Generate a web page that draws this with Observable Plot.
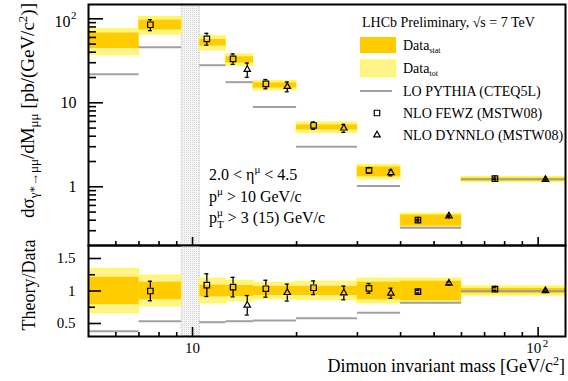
<!DOCTYPE html>
<html><head><meta charset="utf-8">
<script src="https://cdn.jsdelivr.net/npm/d3@7"></script>
<script src="https://cdn.jsdelivr.net/npm/@observablehq/plot@0.6"></script>
<style>
body{margin:0;background:#fff;}
#chart{position:relative;width:568px;height:381px;}
#chart svg{position:absolute;left:0;overflow:visible;}
</style></head><body>
<svg width="0" height="0" style="position:absolute">
  <defs>
    <pattern id="gapHatch" width="2" height="2" patternUnits="userSpaceOnUse">
      <rect width="2" height="2" fill="#f5f5f5"/>
      <rect width="1" height="1" fill="#d6d6d6"/>
    </pattern>
  </defs>
</svg>
<div id="chart"></div>
<script>
// ---- data ----
const binLo = [5, 7, 10.5, 12.5, 15, 20, 30, 40, 60];
const binHi = [7, 9.3, 12.5, 15, 20, 30, 40, 60, 120];
const dataXsec = [56, 85, 52, 32.5, 16.1, 5.1, 1.52, 0.40, 1.22];
const statErr = [0.21, 0.135, 0.09, 0.085, 0.07, 0.07, 0.135, 0.15, 0.04];
const totErr  = [0.34, 0.235, 0.19, 0.155, 0.125, 0.14, 0.19, 0.19, 0.07];
const pythiaXsec  = [21.9, 46, 28, 17.6, 8.9, 3.0, 1.02, 0.326, 1.23];
const pythiaRatio = [0.38, 0.535, 0.52, 0.535, 0.545, 0.58, 0.665, 0.82, 1.0];

const fewzX        = [7.55, 11.0, 13.1, 16.3, 22.4, 32.4, 44.9, 75];
const fewzXsec     = [85, 57.8, 33.4, 16.8, 5.37, 1.57, 0.40, 1.25];
const fewzRatio    = [1.0, 1.09, 1.06, 1.035, 1.05, 1.04, 0.99, 1.03];
const fewzRatioErr = [0.15, 0.175, 0.15, 0.13, 0.105, 0.075, 0.02, 0.02];

const dynX        = [14.4, 18.8, 27.4, 37.5, 55.2, 105];
const dynXsec     = [24.9, 15.6, 4.99, 1.47, 0.45, 1.22];
const dynRatio    = [0.78, 0.975, 0.97, 0.965, 1.12, 1.005];
const dynRatioErr = [0.15, 0.13, 0.105, 0.078, 0.02, 0.012];

const gapLo = 9.3, gapHi = 10.5;

const xDomain = [5, 120];
const yTopDomain = [0.2, 148];
const yRatioDomain = [0.3, 1.7];

const xMajorTicks = [10, 100];
const xMinorTicks = [6, 7, 8, 9, 20, 30, 40, 50, 60, 70, 80, 90];
const xTickLabels = ["10", "10"];
const xTickSups = ["", "2"];
const yTopMajor = [1, 10, 100];
const yTopMinor = [0.2,0.3,0.4,0.5,0.6,0.7,0.8,0.9,2,3,4,5,6,7,8,9,20,30,40,50,60,70,80,90];
const yTopLabels = ["1", "10", "10"];
const yTopSups = ["", "", "2"];
const yRatioMajor = [0.5, 1, 1.5];
const yRatioMinor = [0.75, 1.25];
const yRatioLabels = ["0.5", "1", "1.5"];

const legendLabels = ["Data", "Data", "LO PYTHIA (CTEQ5L)", "NLO FEWZ (MSTW08)", "NLO DYNNLO (MSTW08)"];
const legendSubs = ["stat", "tot", "", "", ""];

// ---- styles ----
const FONT = "'Liberation Serif','Times New Roman',serif";
const DARK = "#ffcc00", LIGHT = "#fff38a", LIGHT_EDGE = "#ffff30";
const GRAY = "#a0a0a0", GAP_FILL = "url(#gapHatch)", GAP_STROKE = "#c8c8c8";
const W = 568, ML = 88, MR = 3;
const innerW = W - ML - MR;
const topH = 245, topMT = 4, topInnerH = topH - topMT;
const botH = 136, botMB = 45, botInnerH = botH - botMB;

const bins = binLo.map((lo, i) => ({lo, hi: binHi[i], v: dataXsec[i], stat: statErr[i], tot: totErr[i], py: pythiaXsec[i], pyr: pythiaRatio[i]}));
const fewz = fewzX.map((x, i) => ({x, v: fewzXsec[i], r: fewzRatio[i], e: fewzRatioErr[i]}));
const dyn = dynX.map((x, i) => ({x, v: dynXsec[i], r: dynRatio[i], e: dynRatioErr[i]}));
const gap = [{lo: gapLo, hi: gapHi}];

const yTopPlain = yTopMajor.map((v, i) => ({v, t: yTopLabels[i], s: yTopSups[i]})).filter(d => !d.s);
const yTopSup = yTopMajor.map((v, i) => ({v, t: yTopLabels[i], s: yTopSups[i]})).filter(d => d.s);
const xPlain = xMajorTicks.map((v, i) => ({v, t: xTickLabels[i], s: xTickSups[i]})).filter(d => !d.s);
const xSup = xMajorTicks.map((v, i) => ({v, t: xTickLabels[i], s: xTickSups[i]})).filter(d => d.s);

function errBars(data, yc, yhi, ylo, gapPx) {
  const o = {x: "x", stroke: "black", strokeWidth: 1.3};
  return [
    Plot.ruleX(data, {...o, y1: yhi, y2: yc, insetBottom: gapPx}),
    Plot.ruleX(data, {...o, y1: yc, y2: ylo, insetTop: gapPx}),
    Plot.ruleY(data, {y: yhi, x1: "x", x2: "x", insetLeft: -2, insetRight: -2, stroke: "black", strokeWidth: 1.3}),
    Plot.ruleY(data, {y: ylo, x1: "x", x2: "x", insetLeft: -2, insetRight: -2, stroke: "black", strokeWidth: 1.3})
  ];
}

const topPlot = Plot.plot({
  width: W, height: topH, marginLeft: ML, marginRight: MR, marginTop: topMT, marginBottom: 0,
  style: {fontFamily: FONT, background: "transparent", overflow: "visible"},
  x: {type: "log", domain: xDomain, axis: null},
  y: {type: "log", domain: yTopDomain, axis: null},
  marks: [
    Plot.rect(gap, {x1: "lo", x2: "hi", fill: GAP_FILL, stroke: GAP_STROKE, strokeDasharray: "1.5,1.5"}),
    Plot.rect(bins, {x1: "lo", x2: "hi", y1: d => d.v * (1 - d.tot), y2: d => d.v * (1 + d.tot), fill: LIGHT, stroke: LIGHT_EDGE, strokeWidth: 1}),
    Plot.rect(bins, {x1: "lo", x2: "hi", y1: d => d.v * (1 - d.stat), y2: d => d.v * (1 + d.stat), fill: DARK}),
    Plot.ruleY(bins, {y: "py", x1: "lo", x2: "hi", stroke: GRAY, strokeWidth: 2}),
    ...errBars(fewz, "v", d => d.v * (1 + d.e / d.r), d => d.v * (1 - d.e / d.r), 3),
    ...errBars(dyn, "v", d => d.v * (1 + d.e / d.r), d => d.v * (1 - d.e / d.r), 3),
    Plot.dot(fewz, {x: "x", y: "v", symbol: "square", r: 3.1, stroke: "black", strokeWidth: 1.2, fill: "none"}),
    Plot.dot(dyn, {x: "x", y: "v", symbol: "triangle", r: 2.4, stroke: "black", strokeWidth: 1.2, fill: "none"}),
    Plot.tickY(yTopMajor, {y: d => d, insetRight: innerW - 15, strokeWidth: 1.6}),
    Plot.tickY(yTopMinor.filter(v => v > yTopDomain[0] && v < yTopDomain[1]), {y: d => d, insetRight: innerW - 8, strokeWidth: 1.6}),
    Plot.tickX(xMajorTicks, {x: d => d, insetTop: topInnerH - 8, strokeWidth: 1.6}),
    Plot.tickX(xMinorTicks, {x: d => d, insetTop: topInnerH - 4, strokeWidth: 1.6}),
    Plot.text(yTopPlain, {y: "v", text: "t", frameAnchor: "left", textAnchor: "end", dx: -12, fontSize: 16}),
    Plot.text(yTopSup, {y: "v", text: "t", frameAnchor: "left", textAnchor: "end", dx: -18, dy: 3, fontSize: 16}),
    Plot.text(yTopSup, {y: "v", text: "s", frameAnchor: "left", textAnchor: "start", dx: -17.5, dy: -3, fontSize: 11}),
    Plot.frame({stroke: "black", strokeWidth: 2})
  ]
});

const botPlot = Plot.plot({
  width: W, height: botH, marginLeft: ML, marginRight: MR, marginTop: 0, marginBottom: botMB,
  style: {fontFamily: FONT, background: "transparent", overflow: "visible"},
  x: {type: "log", domain: xDomain, axis: null},
  y: {domain: yRatioDomain, axis: null},
  marks: [
    Plot.rect(gap, {x1: "lo", x2: "hi", fill: GAP_FILL, stroke: GAP_STROKE, strokeDasharray: "1.5,1.5"}),
    Plot.rect(bins, {x1: "lo", x2: "hi", y1: d => 1 - d.tot, y2: d => 1 + d.tot, fill: LIGHT, stroke: LIGHT_EDGE, strokeWidth: 1}),
    Plot.rect(bins, {x1: "lo", x2: "hi", y1: d => 1 - d.stat, y2: d => 1 + d.stat, fill: DARK}),
    Plot.ruleY(bins, {y: "pyr", x1: "lo", x2: "hi", stroke: GRAY, strokeWidth: 2}),
    ...errBars(fewz, "r", d => d.r + d.e, d => d.r - d.e, 3),
    ...errBars(dyn, "r", d => d.r + d.e, d => d.r - d.e, 3),
    Plot.dot(fewz, {x: "x", y: "r", symbol: "square", r: 3.1, stroke: "black", strokeWidth: 1.2, fill: "none"}),
    Plot.dot(dyn, {x: "x", y: "r", symbol: "triangle", r: 2.4, stroke: "black", strokeWidth: 1.2, fill: "none"}),
    Plot.tickY(yRatioMajor, {y: d => d, insetRight: innerW - 13, strokeWidth: 1.6}),
    Plot.tickY(yRatioMinor, {y: d => d, insetRight: innerW - 7, strokeWidth: 1.6}),
    Plot.tickX(xMajorTicks, {x: d => d, insetTop: botInnerH - 9, strokeWidth: 1.6}),
    Plot.tickX(xMinorTicks, {x: d => d, insetTop: botInnerH - 4, strokeWidth: 1.6}),
    Plot.text(yRatioMajor, {y: d => d, text: (d, i) => yRatioLabels[i], frameAnchor: "left", textAnchor: "end", dx: -13, fontSize: 15}),
    Plot.text(xPlain, {x: "v", text: "t", frameAnchor: "bottom", dy: 16, fontSize: 15}),
    Plot.text(xSup, {x: "v", text: "t", frameAnchor: "bottom", textAnchor: "end", dx: 3, dy: 16, fontSize: 15}),
    Plot.text(xSup, {x: "v", text: "s", frameAnchor: "bottom", textAnchor: "start", dx: 4.5, dy: 10, fontSize: 11}),
    Plot.frame({stroke: "black", strokeWidth: 2})
  ]
});

const chart = document.getElementById("chart");
topPlot.style.top = "0px";
botPlot.style.top = topH + "px";
chart.appendChild(topPlot);
chart.appendChild(botPlot);

// ---- overlay: axis titles, annotation, legend ----
const ov = d3.select(chart).append("svg").attr("width", W).attr("height", 381)
  .style("top", "0px").style("pointer-events", "none").attr("font-family", FONT).attr("fill", "black");

// top y title
const yl = ov.append("text").attr("transform", "translate(34,3) rotate(-90)").attr("text-anchor", "end").attr("font-size", 19);
yl.append("tspan").text("dσ");
yl.append("tspan").attr("font-size", 13).attr("dy", 4).text("γ*→μμ");
yl.append("tspan").attr("dy", -4).text("/dM");
yl.append("tspan").attr("font-size", 13).attr("dy", 4).text("μμ");
yl.append("tspan").attr("dy", -4).text(" [pb/(GeV/c");
yl.append("tspan").attr("font-size", 13).attr("dy", -7).text("2");
yl.append("tspan").attr("dy", 7).text(")]");

// ratio y title
ov.append("text").attr("transform", "translate(35,285) rotate(-90)").attr("text-anchor", "middle").attr("font-size", 18).text("Theory/Data");

// x title
const xl = ov.append("text").attr("x", 565).attr("y", 372).attr("text-anchor", "end").attr("font-size", 18);
xl.append("tspan").text("Dimuon invariant mass [GeV/c");
xl.append("tspan").attr("font-size", 12).attr("dy", -7).text("2");
xl.append("tspan").attr("dy", 7).text("]");

// annotation
const ann = ov.append("g").attr("font-size", 16);
const a1 = ann.append("text").attr("x", 209).attr("y", 180);
a1.append("tspan").text("2.0 < η");
a1.append("tspan").attr("font-size", 11).attr("dy", -7).text("μ");
a1.append("tspan").attr("dy", 7).text(" < 4.5");
const a2 = ann.append("text").attr("x", 209).attr("y", 202);
a2.append("tspan").text("p");
a2.append("tspan").attr("font-size", 11).attr("dy", -7).text("μ");
a2.append("tspan").attr("dy", 7).text(" > 10 GeV/c");
const a3 = ann.append("text").attr("x", 209).attr("y", 223);
a3.append("tspan").text("p");
a3.append("tspan").attr("font-size", 11).attr("dy", -7).text("μ");
a3.append("tspan").attr("font-size", 11).attr("dx", -6).attr("dy", 12).text("T");
a3.append("tspan").attr("dy", -5).text(" > 3 (15) GeV/c");

// legend
const lg = ov.append("g").attr("font-size", 14);
lg.append("text").attr("x", 362).attr("y", 27).text("LHCb Preliminary, √s = 7 TeV");
lg.append("rect").attr("x", 360).attr("y", 37).attr("width", 36).attr("height", 16).attr("fill", DARK);
lg.append("rect").attr("x", 360.5).attr("y", 60).attr("width", 35).attr("height", 16.5).attr("fill", LIGHT).attr("stroke", LIGHT_EDGE);
lg.append("line").attr("x1", 360).attr("x2", 392).attr("y1", 91).attr("y2", 91).attr("stroke", GRAY).attr("stroke-width", 2);
lg.append("path").attr("d", d3.symbol(d3.symbolSquare, 30)()).attr("transform", "translate(377,113)").attr("fill", "none").attr("stroke", "black").attr("stroke-width", 1.2);
lg.append("path").attr("d", d3.symbol(d3.symbolTriangle, 18)()).attr("transform", "translate(377,135)").attr("fill", "none").attr("stroke", "black").attr("stroke-width", 1.2);
const rowY = [50, 73, 96, 118, 140];
legendLabels.forEach((t, i) => {
  const tx = lg.append("text").attr("x", 403).attr("y", rowY[i]);
  tx.append("tspan").text(t);
  if (legendSubs[i]) tx.append("tspan").attr("font-size", 8).attr("dy", 3).text(legendSubs[i]);
});
</script></body></html>
